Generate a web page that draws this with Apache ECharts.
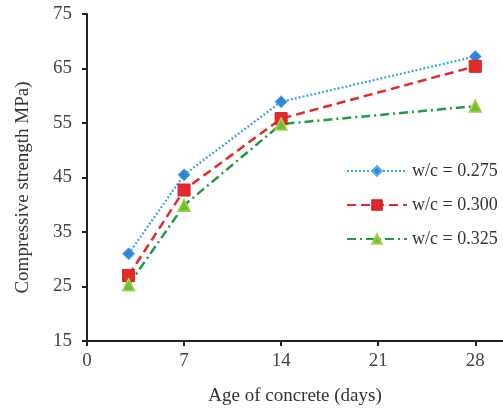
<!DOCTYPE html>
<html>
<head>
<meta charset="utf-8">
<script src="https://cdn.jsdelivr.net/npm/echarts@6/dist/echarts.min.js"></script>
<style>html,body{margin:0;padding:0;background:#fff;}#c{width:503px;height:411px;}</style>
</head>
<body>
<div id="c"></div>
<script>
const ages = [3, 7, 14, 28];
const wc0275 = [31.0, 45.5, 58.9, 67.2];
const wc0300 = [27.0, 42.7, 55.8, 65.4];
const wc0325 = [25.3, 39.9, 54.8, 58.1];
const seriesNames = ['w/c = 0.275', 'w/c = 0.300', 'w/c = 0.325'];
const xTicks = [0, 7, 14, 21, 28];
const yTicks = [15, 25, 35, 45, 55, 65, 75];

const font = 'Liberation Serif, Times New Roman, serif';
const chart = echarts.init(document.getElementById('c'), null, {renderer: 'canvas'});
const pair = arr => ages.map((a, i) => [a, arr[i]]);
chart.setOption({
  animation: false,
  backgroundColor: '#fff',
  grid: {left: 87, right: 0, top: 14, bottom: 70},
  legend: {
    orient: 'vertical', left: 341, top: 157, itemWidth: 60, itemHeight: 12, itemGap: 16,
    textStyle: {fontFamily: font, fontSize: 18, color: '#333'},
    data: seriesNames
  },
  xAxis: {
    type: 'value', min: 0, max: 30, interval: 7,
    name: 'Age of concrete (days)', nameLocation: 'middle', nameGap: 46,
    nameTextStyle: {fontFamily: font, fontSize: 19, color: '#333'},
    axisLine: {lineStyle: {color: '#222', width: 2}},
    axisTick: {show: true, length: 5, lineStyle: {color: '#222', width: 2}, customValues: xTicks},
    axisLabel: {fontFamily: font, fontSize: 19, color: '#444', margin: 11, customValues: xTicks},
    splitLine: {show: false}
  },
  yAxis: {
    type: 'value', min: 15, max: 75, interval: 10,
    name: 'Compressive strength MPa)', nameLocation: 'middle', nameGap: 54,
    nameTextStyle: {fontFamily: font, fontSize: 19, color: '#333', padding: [0, 20, 0, 0]},
    axisLine: {show: true, lineStyle: {color: '#222', width: 2}},
    axisTick: {show: true, length: 5, lineStyle: {color: '#222', width: 2}, customValues: yTicks},
    axisLabel: {fontFamily: font, fontSize: 19, color: '#444', margin: 15, customValues: yTicks},
    splitLine: {show: false}
  },
  series: [
    {
      name: seriesNames[0], type: 'line', data: pair(wc0275),
      symbol: 'diamond', symbolSize: 12,
      lineStyle: {color: '#3aa6dd', width: 2.2, type: [2, 2]},
      itemStyle: {color: '#2f86d4', borderColor: '#5aaee6', borderWidth: 1}
    },
    {
      name: seriesNames[1], type: 'line', data: pair(wc0300),
      symbol: 'rect', symbolSize: 12,
      lineStyle: {color: '#e4282c', width: 2.5, type: [9, 5]},
      itemStyle: {color: '#e4282c', borderColor: '#d02020', borderWidth: 1}
    },
    {
      name: seriesNames[2], type: 'line', data: pair(wc0325),
      symbol: 'triangle', symbolSize: 12,
      lineStyle: {color: '#1f9a45', width: 2.5, type: [9, 4, 2, 4]},
      itemStyle: {color: '#6fbf3a', borderColor: '#a8cf45', borderWidth: 1.5}
    }
  ]
});
</script>
</body>
</html>
